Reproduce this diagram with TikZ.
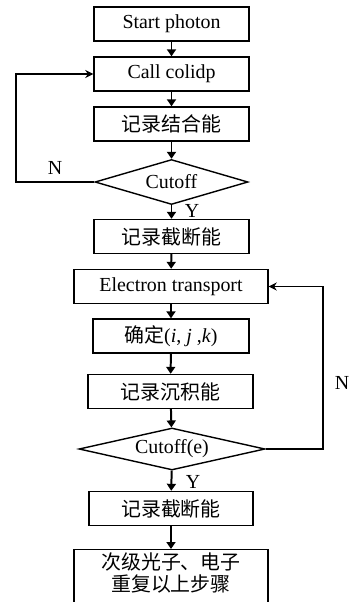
\documentclass[tikz,border=0pt]{standalone}
\usepackage{fontspec}
\setmainfont{Liberation Serif}
\newfontfamily\cjk{Noto Sans CJK SC}
\usetikzlibrary{arrows.meta,shapes.geometric}
\tikzset{
  box/.style   = {draw, line width=1.2pt, fill=white, minimum height=1.02cm,
                  inner sep=1pt, font=\fontsize{17}{19}\selectfont},
  ask/.style   = {draw, line width=1.2pt, diamond, aspect=4, inner sep=0pt,
                  font=\fontsize{17}{19}\selectfont},
  flow/.style  = {-{Triangle[length=2.1mm,width=2.7mm]}, line width=1.7pt},
  back/.style  = {-{Stealth[length=2.4mm,width=2.4mm]}, line width=1.4pt},
  lbl/.style   = {font=\fontsize{17}{19}\selectfont, inner sep=0pt},
}
\begin{document}
\begin{tikzpicture}[x=0.03cm,y=-0.03cm]
  \useasboundingbox (0,0) rectangle (352,602);
  \clip (0,0) rectangle (352,602);
  % photon part
  \node[box, minimum width=4.65cm] (start) at (171.5,24) {Start photon};
  \node[box, minimum width=4.65cm] (colidp) at (171.5,74) {Call colidp};
  \node[box, minimum width=4.65cm] (bind) at (171.5,124) {\cjk 记录结合能};
  \node[ask, minimum width=4.59cm, minimum height=1.35cm] (cut) at (171.5,182) {Cutoff};
  \node[box, minimum width=4.65cm] (cutE) at (171.5,236.5) {\cjk 记录截断能};
  % electron part
  \node[box, minimum width=5.82cm] (etrans) at (171,286.5) {Electron transport};
  \node[box, minimum width=4.68cm] (ijk) at (171,336) {{\cjk 确定}(\textit{i}, \textit{j} ,\textit{k})};
  \node[box, minimum width=4.95cm] (dep) at (170.5,391.5) {\cjk 记录沉积能};
  \node[ask, minimum width=5.58cm, minimum height=1.26cm] (cute) at (172,449) {Cutoff(e)};
  \node[box, minimum width=4.92cm] (cutE2) at (171,508.5) {\cjk 记录截断能};
  \node[box, minimum width=5.82cm, minimum height=1.9cm, anchor=north, align=center,
        text depth=0.55cm] (next) at (171,549)
        {\cjk 次级光子、电子\\ \cjk 重复以上步骤};
  % main flow
  \draw[flow] (start) -- (colidp);
  \draw[flow] (colidp) -- (bind);
  \draw[flow] (bind) -- (cut);
  \draw[flow] (cut) -- (cutE);
  \draw[flow] (cutE) -- (etrans);
  \draw[flow] (etrans) -- (ijk);
  \draw[flow] (ijk) -- (dep);
  \draw[flow] (dep) -- (cute);
  \draw[flow] (cute) -- (cutE2);
  \draw[flow] (cutE2) -- (next);
  % loops
  \coordinate (lft) at (16,182);
  \coordinate (rgt) at (323,449);
  \draw[back] (cut.west) -- (lft) |- (colidp.west);
  \draw[back] (cute.east) -- (rgt) |- (etrans.east);
  \node[lbl] (n1) at (55,168) {N};
  \node[lbl] (y1) at (192,211) {Y};
  \node[lbl] (n2) at (342,383) {N};
  \node[lbl] (y2) at (193,482) {Y};
\end{tikzpicture}
\end{document}
